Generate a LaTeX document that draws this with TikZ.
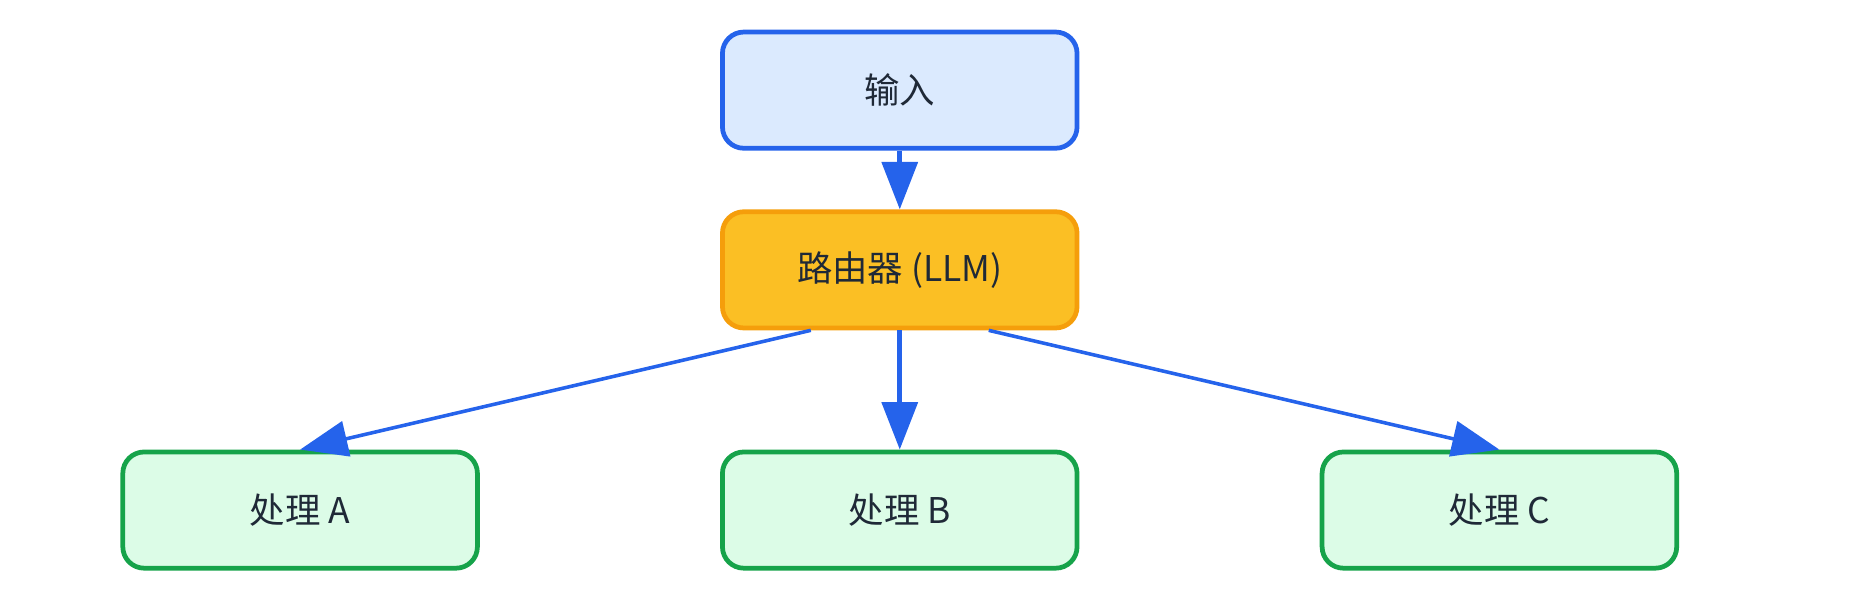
\documentclass[tikz,border=0pt]{standalone}
\usepackage{fontspec}
\setmainfont{Noto Sans CJK SC}
\usetikzlibrary{arrows.meta,calc}
\definecolor{bl}{HTML}{2563EB}
\definecolor{blf}{HTML}{DBEAFE}
\definecolor{orf}{HTML}{FBBF24}
\definecolor{ord}{HTML}{F59E0B}
\definecolor{gr}{HTML}{16A34A}
\definecolor{grf}{HTML}{DCFCE7}
\definecolor{tx}{HTML}{1F2937}
\begin{document}
\begin{tikzpicture}[x=0.02cm,y=-0.02cm,
 box/.style={rounded corners=0.36cm,line width=0.08cm,minimum width=5.98cm,minimum height=1.96cm,inner sep=0pt,font=\fontsize{17}{20}\selectfont,text=tx},
 arr/.style={draw=bl,line width=0.08cm,-{Triangle[width=0.6cm,length=0.8cm]}},
 darr/.style={draw=bl,line width=0.06cm,-{Triangle[width=0.6cm,length=0.8cm]}}]
\useasboundingbox (0,0) rectangle (1568,506);
\node[box,draw=bl,fill=blf] (in) at (758.5,76) {输入};
\node[box,draw=ord,fill=orf] (r) at (758.5,227.5) {路由器 (LLM)};
\node[box,draw=gr,fill=grf] (a) at (253,430) {处理 A};
\node[box,draw=gr,fill=grf] (b) at (758.5,430) {处理 B};
\node[box,draw=gr,fill=grf] (c) at (1264,430) {处理 C};
\draw[arr] (in.south) -- (r.north);
\draw[arr] (r.south) -- (b.north);
\draw[darr] ($(r.south)+(-75,0)$) -- (a.north);
\draw[darr] ($(r.south)+(75,0)$) -- (c.north);
\end{tikzpicture}
\end{document}
